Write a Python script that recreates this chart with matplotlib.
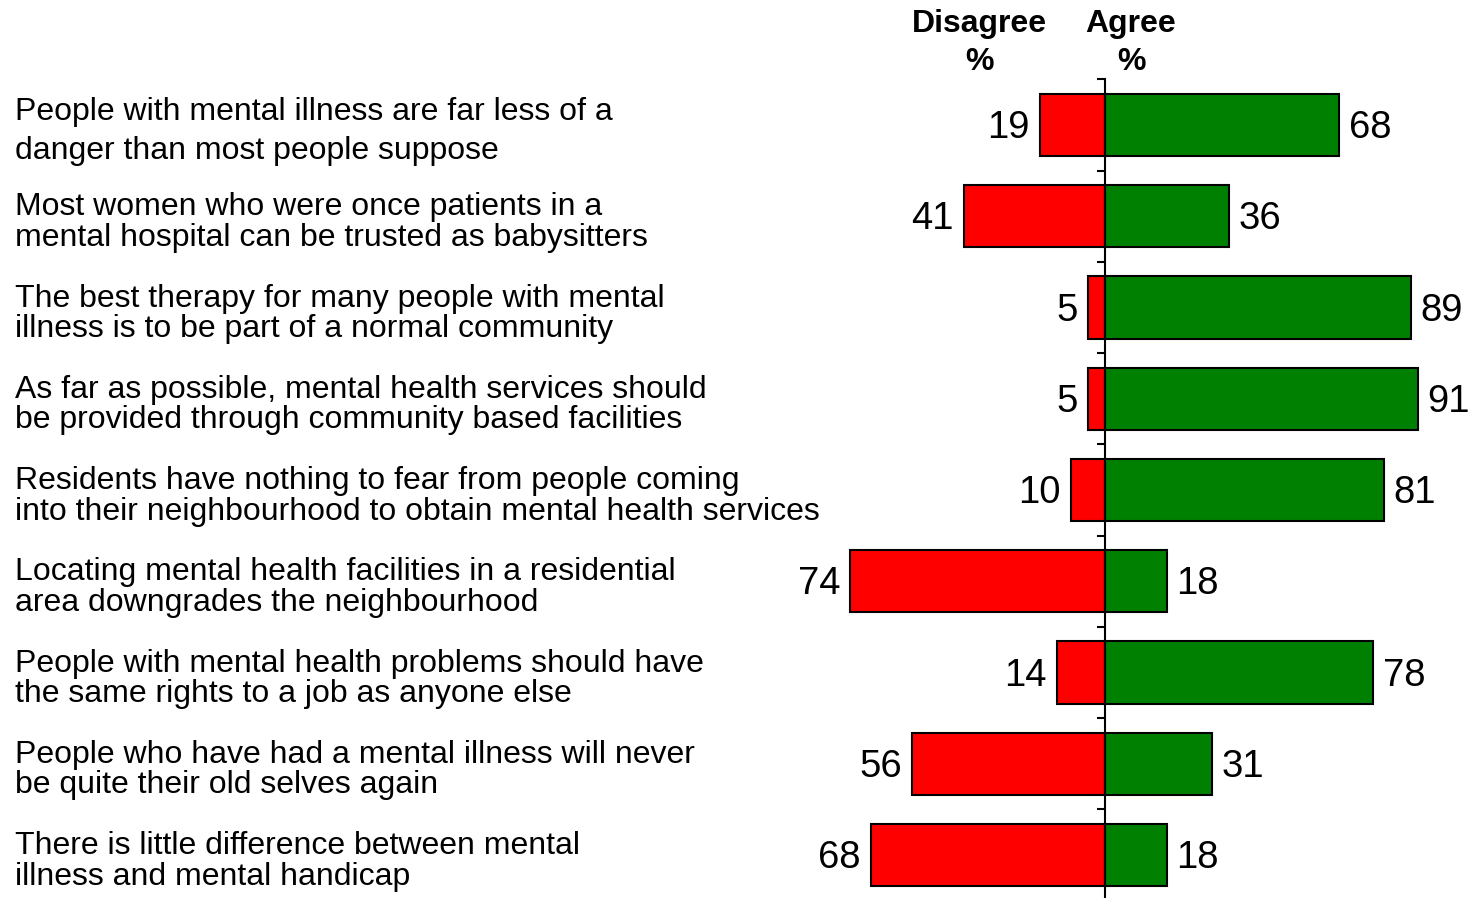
import matplotlib.pyplot as plt
from matplotlib.transforms import blended_transform_factory

plt.rcParams['font.family'] = ['Liberation Sans', 'DejaVu Sans']

statements = [
    "People with mental illness are far less of a\ndanger than most people suppose",
    "Most women who were once patients in a\nmental hospital can be trusted as babysitters",
    "The best therapy for many people with mental\nillness is to be part of a normal community",
    "As far as possible, mental health services should\nbe provided through community based facilities",
    "Residents have nothing to fear from people coming\ninto their neighbourhood to obtain mental health services",
    "Locating mental health facilities in a residential\narea downgrades the neighbourhood",
    "People with mental health problems should have\nthe same rights to a job as anyone else",
    "People who have had a mental illness will never\nbe quite their old selves again",
    "There is little difference between mental\nillness and mental handicap",
]
disagree = [19, 41, 5, 5, 10, 74, 14, 56, 68]
agree = [68, 36, 89, 91, 81, 18, 78, 31, 18]

W, H = 1476, 898
fig = plt.figure(figsize=(W / 100, H / 100), dpi=100)

# axis: zero at x=1105px, ~3.44 px per percent
x0, scale = 1105, 3.44
left_px = 780
ax = fig.add_axes([left_px / W, 1 - 900.6 / H, 1 - left_px / W, (900.6 - 79.4) / H])
ax.set_xlim(-(x0 - left_px) / scale, (W - x0) / scale)
ax.set_ylim(8.5, -0.5)

ypos = list(range(len(statements)))
ax.barh(ypos, [-d for d in disagree], height=0.68, color='#FF0000',
        edgecolor='black', linewidth=1.5, zorder=2)
ax.barh(ypos, agree, height=0.68, color='#008000',
        edgecolor='black', linewidth=1.5, zorder=2)

for y, d, a in zip(ypos, disagree, agree):
    ax.text(-d - 3, y + 0.035, str(d), ha='right', va='center', fontsize=27.5, clip_on=False)
    ax.text(a + 2.8, y + 0.035, str(a), ha='left', va='center', fontsize=27.5, clip_on=False)

for s in ['top', 'right', 'bottom']:
    ax.spines[s].set_visible(False)
ax.spines['left'].set_position(('data', 0))
ax.spines['left'].set_linewidth(1.5)
ax.spines['left'].set_zorder(3)
ax.set_yticks([i - 0.5 for i in range(len(statements) + 1)])
ax.set_yticklabels([])
ax.tick_params(axis='y', direction='out', length=6, width=1.5)
ax.set_xticks([])

trans = blended_transform_factory(fig.transFigure, ax.transData)
for i, s in enumerate(statements):
    ls = 1.4 if i == 0 else 1.03
    ax.text(15 / W, i + 0.07, s, transform=trans, ha='left', va='center',
            fontsize=23, linespacing=ls)

fig.text(979 / W, 1 - 9 / H, "Disagree\n%", ha='center', va='top',
         fontsize=23, fontweight='bold', linespacing=1.35)
fig.text(1131 / W, 1 - 9 / H, "Agree\n%", ha='center', va='top',
         fontsize=23, fontweight='bold', linespacing=1.35)

fig.savefig('out.png', dpi=100)
